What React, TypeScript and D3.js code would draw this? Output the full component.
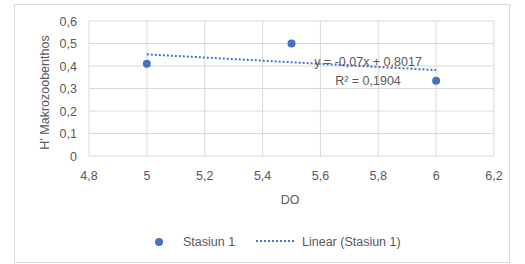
import { useEffect, useRef } from "react";
import * as d3 from "d3";

const xValues = [5, 5.5, 6];
const yValues = [0.41, 0.5, 0.335];
const xTicks = [4.8, 5, 5.2, 5.4, 5.6, 5.8, 6, 6.2];
const yTicks = [0, 0.1, 0.2, 0.3, 0.4, 0.5, 0.6];
const trendSlope = -0.07;
const trendIntercept = 0.8017;
const seriesName = "Stasiun 1";
const equationText = "y = -0,07x + 0,8017";
const r2Text = "R² = 0,1904";

export default function App() {
  const ref = useRef<SVGSVGElement | null>(null);

  useEffect(() => {
    const svg = d3.select(ref.current);
    svg.selectAll("*").remove();
    const font = "Liberation Sans, Arial, sans-serif";
    const fs = 12.5;
    const textColor = "#595959";
    const blue = "#4472C4";
    const fmt = (v: number) => String(v).replace(".", ",");

    // bingkai luar
    svg
      .append("rect")
      .attr("x", 14.5)
      .attr("y", 4.5)
      .attr("width", 495)
      .attr("height", 258)
      .attr("fill", "#fff")
      .attr("stroke", "#d9d9d9");

    const x = d3.scaleLinear().domain([4.8, 6.2]).range([89, 494]);
    const y = d3.scaleLinear().domain([0, 0.6]).range([156, 21]);

    const g = svg.append("g");

    // grid
    g.selectAll("line.vg")
      .data(xTicks)
      .enter()
      .append("line")
      .attr("x1", (d) => x(d))
      .attr("x2", (d) => x(d))
      .attr("y1", y(0))
      .attr("y2", y(0.6))
      .attr("stroke", "#d9d9d9");
    g.selectAll("line.hg")
      .data(yTicks)
      .enter()
      .append("line")
      .attr("x1", x(4.8))
      .attr("x2", x(6.2))
      .attr("y1", (d) => y(d))
      .attr("y2", (d) => y(d))
      .attr("stroke", "#d9d9d9");

    // label sumbu
    g.selectAll("text.xt")
      .data(xTicks)
      .enter()
      .append("text")
      .attr("x", (d) => x(d))
      .attr("y", 180)
      .attr("text-anchor", "middle")
      .attr("font-size", fs)
      .attr("font-family", font)
      .attr("fill", textColor)
      .text((d) => fmt(d));
    g.selectAll("text.yt")
      .data(yTicks)
      .enter()
      .append("text")
      .attr("x", 77)
      .attr("y", (d) => y(d) + 4.5)
      .attr("text-anchor", "end")
      .attr("font-size", fs)
      .attr("font-family", font)
      .attr("fill", textColor)
      .text((d) => fmt(+d.toFixed(1)));

    g.append("text")
      .attr("x", 290)
      .attr("y", 204)
      .attr("text-anchor", "middle")
      .attr("font-size", fs)
      .attr("font-family", font)
      .attr("fill", textColor)
      .text("DO");
    g.append("text")
      .attr("transform", `translate(49,${(y(0) + y(0.6)) / 2 + 4}) rotate(-90)`)
      .attr("text-anchor", "middle")
      .attr("font-size", fs)
      .attr("font-family", font)
      .attr("fill", textColor)
      .text("H' Makrozoobenthos");

    // garis tren
    const line = d3
      .line<number>()
      .x((d) => x(d))
      .y((d) => y(trendSlope * d + trendIntercept));
    g.append("path")
      .attr("d", line([d3.min(xValues)!, d3.max(xValues)!]))
      .attr("fill", "none")
      .attr("stroke", blue)
      .attr("stroke-width", 2)
      .attr("stroke-dasharray", "2,2");

    // titik
    g.selectAll("circle.pt")
      .data(xValues)
      .enter()
      .append("circle")
      .attr("cx", (d) => x(d))
      .attr("cy", (_d, i) => y(yValues[i]))
      .attr("r", 4)
      .attr("fill", blue);

    // persamaan
    g.append("text")
      .attr("x", 368)
      .attr("y", 66)
      .attr("text-anchor", "middle")
      .attr("font-size", fs)
      .attr("font-family", font)
      .attr("fill", textColor)
      .text(equationText);
    g.append("text")
      .attr("x", 368)
      .attr("y", 85)
      .attr("text-anchor", "middle")
      .attr("font-size", fs)
      .attr("font-family", font)
      .attr("fill", textColor)
      .text(r2Text);

    // legenda
    g.append("circle").attr("cx", 159).attr("cy", 242).attr("r", 4).attr("fill", blue);
    g.append("text")
      .attr("x", 183)
      .attr("y", 245.5)
      .attr("font-size", fs)
      .attr("font-family", font)
      .attr("fill", textColor)
      .text(seriesName);
    g.append("line")
      .attr("x1", 256)
      .attr("x2", 295)
      .attr("y1", 241)
      .attr("y2", 241)
      .attr("stroke", blue)
      .attr("stroke-width", 2)
      .attr("stroke-dasharray", "2,2");
    g.append("text")
      .attr("x", 302)
      .attr("y", 245.5)
      .attr("font-size", fs)
      .attr("font-family", font)
      .attr("fill", textColor)
      .text(`Linear (${seriesName})`);
  }, []);

  return (
    <svg
      ref={ref}
      width={525}
      height={264}
      style={{ position: "absolute", left: 0, top: 0, background: "#fff" }}
    />
  );
}
